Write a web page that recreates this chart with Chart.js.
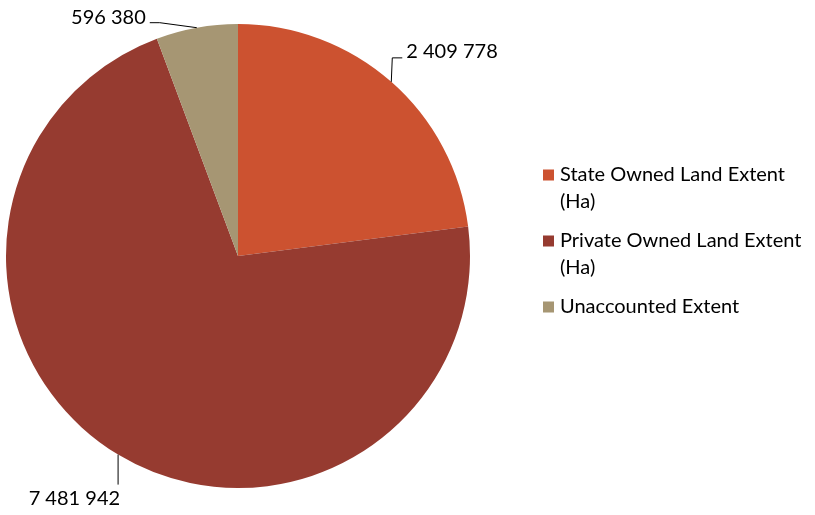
<!DOCTYPE html>
<html>
<head>
<meta charset="utf-8">
<script src="https://cdn.jsdelivr.net/npm/chart.js@4.4.1/dist/chart.umd.min.js"></script>
<style>
  html, body { margin: 0; padding: 0; background: #fff; }
  #wrap { width: 815px; height: 515px; }
</style>
</head>
<body>
<div id="wrap"><canvas id="pie" width="815" height="515"></canvas></div>
<script>
const categories = [
  ['State Owned Land Extent', '(Ha)'],
  ['Private Owned Land Extent', '(Ha)'],
  ['Unaccounted Extent']
];
const extents = [2409778, 7481942, 596380];
const sliceColors = ['#CC5230', '#963B30', '#A69673'];

const FONT = '20px Lato, "Open Sans", sans-serif';

// "2 409 778" style thousands spacing
const fmt = v => String(v).replace(/\B(?=(\d{3})+(?!\d))/g, ' ');

// leader line routes, relative to the point where the slice's mid-angle meets the rim
const leaders = [
  {path: [[1, -24], [11, -24]], text: [15, -30], align: 'left'},
  {path: [[0, 30]], text: [2, 44], align: 'right'},
  {path: [[-37, -5], [-47, -5]], text: [-51, -10], align: 'right'}
];

const leaderLabels = {
  id: 'leaderLabels',
  afterDatasetsDraw(chart) {
    const ctx = chart.ctx;
    const meta = chart.getDatasetMeta(0);
    ctx.save();
    ctx.font = FONT;
    ctx.fillStyle = '#000';
    ctx.strokeStyle = '#000';
    ctx.lineWidth = 1;
    meta.data.forEach((arc, i) => {
      const mid = (arc.startAngle + arc.endAngle) / 2;
      const x0 = arc.x + Math.cos(mid) * arc.outerRadius;
      const y0 = arc.y + Math.sin(mid) * arc.outerRadius;
      const l = leaders[i];
      ctx.beginPath();
      ctx.moveTo(x0, y0);
      l.path.forEach(([dx, dy]) => ctx.lineTo(x0 + dx, y0 + dy));
      ctx.stroke();
      ctx.textAlign = l.align;
      ctx.textBaseline = 'middle';
      ctx.fillText(fmt(chart.data.datasets[0].data[i]), x0 + l.text[0], y0 + l.text[1]);
    });
    ctx.restore();
  }
};

// legend on the right, with wrapped category names
const sideLegend = {
  id: 'sideLegend',
  afterDraw(chart) {
    const ctx = chart.ctx;
    const labels = chart.data.labels;
    const colors = chart.data.datasets[0].backgroundColor;
    const left = 543, box = 11, lineH = 27, gap = 12;
    let y = 175;
    ctx.save();
    ctx.font = FONT;
    ctx.textBaseline = 'middle';
    ctx.textAlign = 'left';
    labels.forEach((lines, i) => {
      ctx.fillStyle = colors[i];
      ctx.fillRect(left, y - box / 2, box, box);
      ctx.fillStyle = '#000';
      lines.forEach((t, j) => ctx.fillText(t, left + 17, y + j * lineH));
      y += lines.length * lineH + gap;
    });
    ctx.restore();
  }
};

new Chart(document.getElementById('pie'), {
  type: 'pie',
  data: {
    labels: categories,
    datasets: [{
      data: extents,
      backgroundColor: sliceColors,
      borderWidth: 0
    }]
  },
  options: {
    responsive: false,
    animation: false,
    layout: {padding: {top: 24, bottom: 27, left: 6, right: 345}},
    plugins: {
      legend: {display: false},
      tooltip: {enabled: false}
    }
  },
  plugins: [leaderLabels, sideLegend]
});
</script>
</body>
</html>
